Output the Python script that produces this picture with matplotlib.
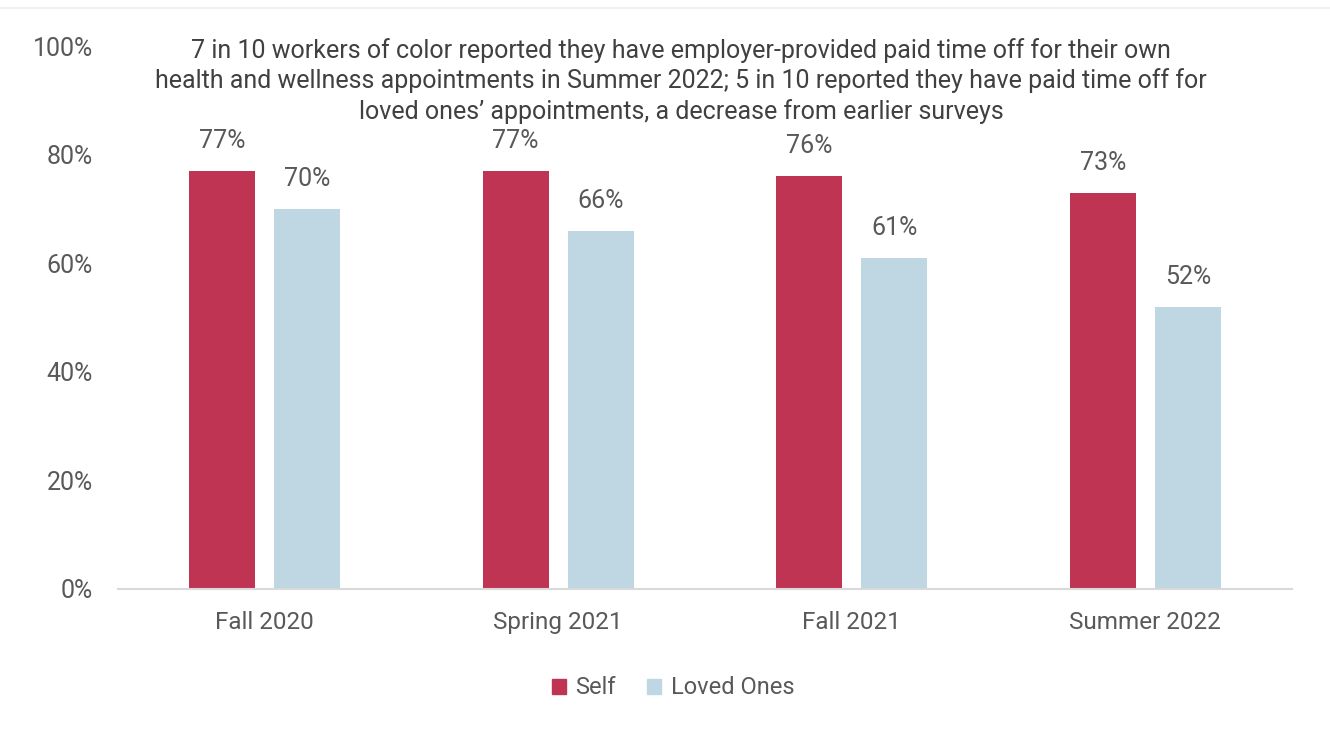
import matplotlib
matplotlib.use("Agg")
import matplotlib.pyplot as plt
from matplotlib.lines import Line2D
from matplotlib.patches import Patch
import numpy as np

plt.rcParams['font.family'] = ['Roboto', 'DejaVu Sans']

categories = ["Fall 2020", "Spring 2021", "Fall 2021", "Summer 2022"]
self_values = [77, 77, 76, 73]
loved_values = [70, 66, 61, 52]
series_names = ["Self", "Loved Ones"]
title = ("7 in 10 workers of color reported they have employer-provided paid time off for their own\n"
         "health and wellness appointments in Summer 2022; 5 in 10 reported they have paid time off for\n"
         "loved ones\u2019 appointments, a decrease from earlier surveys")

SELF_COLOR = "#BF3353"
LOVED_COLOR = "#BFD7E3"
TEXT_COLOR = "#595959"

fig = plt.figure(figsize=(13.3, 7.3), dpi=100)
ax = fig.add_axes([118 / 1330, 1 - 589 / 730, (1292 - 118) / 1330, (589 - 46) / 730])

x = np.arange(len(categories))
width = 0.225
offset = 0.145
b1 = ax.bar(x - offset, self_values, width, color=SELF_COLOR, label=series_names[0])
b2 = ax.bar(x + offset, loved_values, width, color=LOVED_COLOR, label=series_names[1])

for bars, vals in ((b1, self_values), (b2, loved_values)):
    for rect, v in zip(bars, vals):
        ax.annotate(f"{v}%", (rect.get_x() + rect.get_width() / 2, v),
                    xytext=(0, 13), textcoords="offset points",
                    ha="center", va="bottom", fontsize=18, color=TEXT_COLOR)

ax.set_xlim(-0.5, len(categories) - 0.5)
ax.set_ylim(0, 100)
ax.set_yticks(range(0, 101, 20))
ax.set_yticklabels([f"{t}%" for t in range(0, 101, 20)])
ax.set_xticks(x)
ax.set_xticklabels(categories)
ax.tick_params(axis="both", length=0, labelsize=17.5, colors=TEXT_COLOR)
ax.tick_params(axis="y", pad=18, labelsize=18)
ax.tick_params(axis="x", pad=16)
for s in ("top", "right", "left"):
    ax.spines[s].set_visible(False)
ax.spines["bottom"].set_color("#D9D9D9")
ax.spines["bottom"].set_linewidth(1.5)

fig.text(681 / 1330, 1 - 38 / 730, title, ha="center", va="top",
         fontsize=18, color="#404040", linespacing=1.27)

fig.add_artist(Line2D([0, 1], [1 - 8 / 730] * 2, color="#EEEEEE", lw=1.2))

handles = [Patch(color=SELF_COLOR), Patch(color=LOVED_COLOR)]
fig.legend(handles, series_names, loc="center", bbox_to_anchor=(673 / 1330, 1 - 688 / 730),
           ncol=2, frameon=False, fontsize=17, handlelength=0.6, handleheight=0.6,
           handletextpad=0.4, columnspacing=1.3, labelcolor=TEXT_COLOR)

fig.savefig("out.png", dpi=100, facecolor="white")
